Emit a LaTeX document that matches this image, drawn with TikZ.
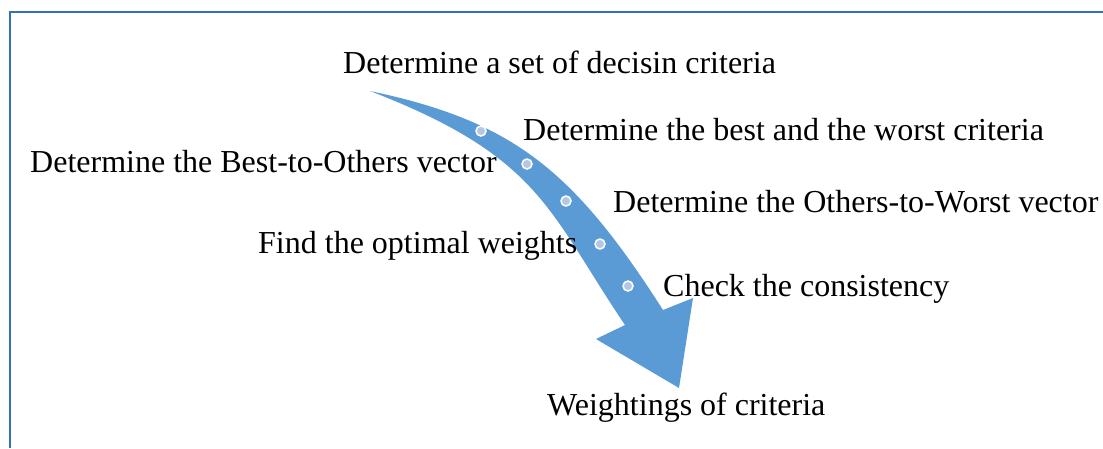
\documentclass[tikz,border=0pt]{standalone}
\usepackage{fontspec}
\setmainfont{Liberation Serif}
\definecolor{framec}{HTML}{2E75B6}
\definecolor{arrowc}{HTML}{5B9BD5}
\definecolor{dotc}{HTML}{B4C7E7}
\begin{document}
\begin{tikzpicture}[x=1pt,y=-1pt,
  lbl/.style={anchor=base west,inner sep=0pt,font=\fontsize{32}{38}\selectfont},
  stepdot/.style={circle,fill=dotc,draw=white,line width=1.5pt,minimum size=10pt,inner sep=0pt}]
\useasboundingbox (0,0) rectangle (1103,448);
\draw[framec,line width=2.5pt] (10,448) -- (10,11.8) -- (1103,11.8);
% curved arrow
\fill[arrowc] (370,91) .. controls (512,121) and (573,169) .. (663,310)
  -- (693,298) -- (679,388) -- (596,339) -- (625,325)
  .. controls (548,211) and (541,157) .. (370,91) -- cycle;
\node[stepdot] (d1) at (481,131) {};
\node[stepdot] (d2) at (527,164) {};
\node[stepdot] (d3) at (566,201) {};
\node[stepdot] (d4) at (600,244) {};
\node[stepdot] (d5) at (628,286) {};
\node[lbl] (t1) at (343,73) {Determine a set of decisin criteria};
\node[lbl] (t2) at (523,140) {Determine the best and the worst criteria};
\node[lbl] (t3) at (30,172) {Determine the Best-to-Others vector};
\node[lbl] (t4) at (613,212) {Determine the Others-to-Worst vector};
\node[lbl] (t5) at (258,253) {Find the optimal weights};
\node[lbl] (t6) at (663,296) {Check the consistency};
\node[lbl] (t7) at (547,415) {Weightings of criteria};
\end{tikzpicture}
\end{document}
